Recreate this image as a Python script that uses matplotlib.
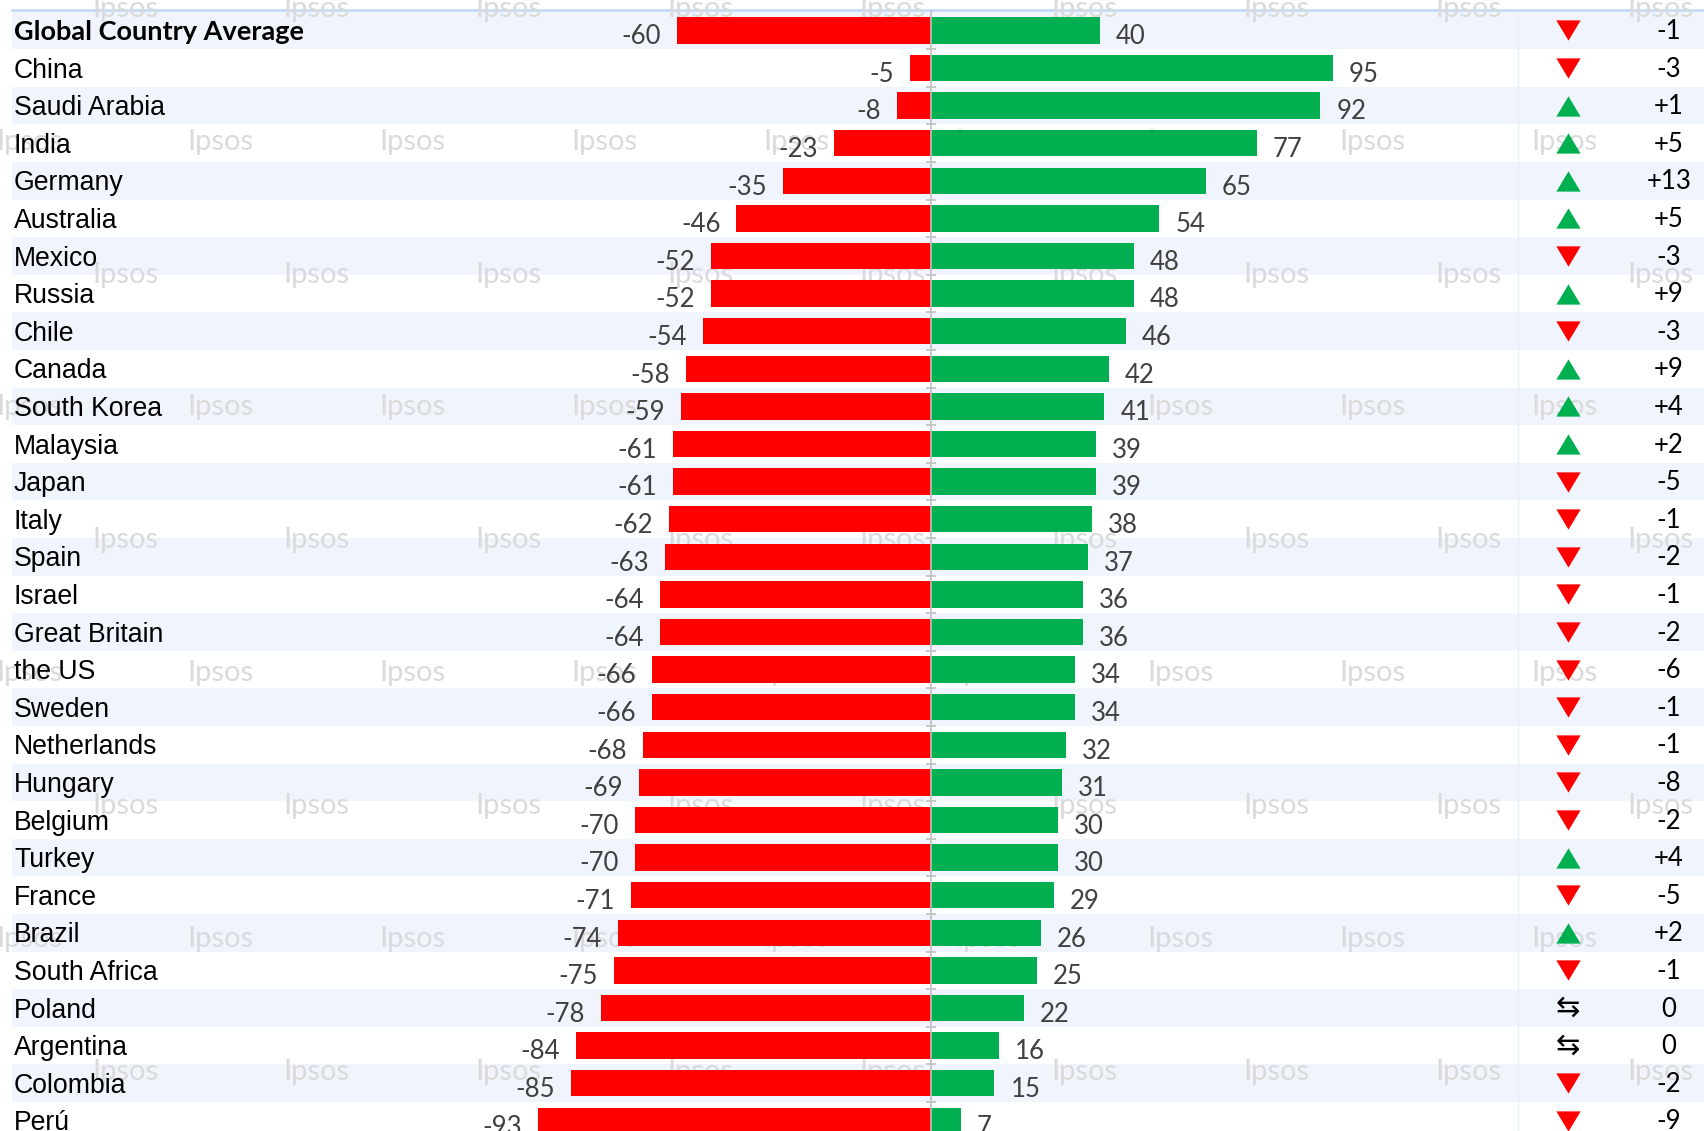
import numpy as np
import matplotlib
matplotlib.use("Agg")
import matplotlib.pyplot as plt

countries = ["Global Country Average", "China", "Saudi Arabia", "India", "Germany",
             "Australia", "Mexico", "Russia", "Chile", "Canada", "South Korea",
             "Malaysia", "Japan", "Italy", "Spain", "Israel", "Great Britain",
             "the US", "Sweden", "Netherlands", "Hungary", "Belgium", "Turkey",
             "France", "Brazil", "South Africa", "Poland", "Argentina", "Colombia",
             "Perú"]
wrong_track = [-60, -5, -8, -23, -35, -46, -52, -52, -54, -58, -59, -61, -61, -62,
               -63, -64, -64, -66, -66, -68, -69, -70, -70, -71, -74, -75, -78,
               -84, -85, -93]
right_direction = [40, 95, 92, 77, 65, 54, 48, 48, 46, 42, 41, 39, 39, 38, 37, 36,
                   36, 34, 34, 32, 31, 30, 30, 29, 26, 25, 22, 16, 15, 7]
change = [-1, -3, 1, 5, 13, 5, -3, 9, -3, 9, 4, 2, -5, -1, -2, -1, -2, -6, -1, -1,
          -8, -2, 4, -5, 2, -1, 0, 0, -2, -9]

RED = "#ff0000"
GREEN = "#00b050"
BAND = "#eff4fd"

W, H = 1704, 1131
zero_px = 931.0
px_per_unit = 4.23
row_px = 37.6
first_row_px = 30.4

fig = plt.figure(figsize=(W / 100, H / 100), dpi=100)
ax = fig.add_axes([0, 0, 1, 1])
ax.set_xlim(-zero_px / px_per_unit, (W - zero_px) / px_per_unit)
ax.set_ylim((H - first_row_px) / row_px, -first_row_px / row_px)
ax.axis("off")

def px_x(p):
    return (p - zero_px) / px_per_unit

n = len(countries)
y = np.arange(n)

# row bands
for i in range(n):
    if i % 2 == 0:
        ax.axhspan(i - 0.5, i + 0.5, xmin=12 / W, xmax=1, color=BAND, lw=0, zorder=0)

# top rule and column divider
ax.axhline(-0.54, xmin=12 / W, xmax=1, color="#c5dbf3", lw=2, zorder=1)
ax.vlines(px_x(1518), -0.5, n, color="#e8eef6", lw=1, zorder=1)

# watermark
for r in range(9):
    wy = 8.7 + 132.9 * r
    x0 = 125 if r % 2 == 0 else 29
    for k in range(10):
        wx = x0 + 191.9 * k
        ax.text(wx / W, 1 - wy / H, "Ipsos", transform=ax.transAxes, ha="center",
                va="center", fontsize=21, family="Lato",
                color="#dadada", zorder=1)

# zero axis
ax.vlines(0, -0.54, n, color="#c0c0c0", lw=1.2, zorder=3)
tick = 5 / px_per_unit
ax.hlines(np.arange(n) + 0.5, -tick, tick, color="#c0c0c0", lw=1.2, zorder=3)

bh = 0.7
ax.barh(y, wrong_track, height=bh, color=RED, zorder=2)
ax.barh(y, right_direction, height=bh, color=GREEN, zorder=2)

for i in range(n):
    ax.annotate(str(wrong_track[i]), (wrong_track[i], i), xytext=(-11.5, -4.5),
                textcoords="offset points", ha="right", va="center", fontsize=18.5,
                family="Lato", color="#404040", zorder=4)
    ax.annotate(str(right_direction[i]), (right_direction[i], i), xytext=(11.5, -4.5),
                textcoords="offset points", ha="left", va="center", fontsize=18.5,
                family="Lato", color="#404040", zorder=4)
    if i == 0:
        ax.text(14 / W, i + 0.03, countries[i], transform=ax.get_yaxis_transform(),
                ha="left", va="center", fontsize=19.5, family="Lato",
                fontweight="bold", color="black", zorder=4)
    else:
        ax.text(14 / W, i + 0.07, countries[i], transform=ax.get_yaxis_transform(),
                ha="left", va="center", fontsize=19.2, family="Liberation Sans",
                color="black", zorder=4)

# change indicators
up = [(-1.2, -1), (1.2, -1), (0, 1)]
down = [(-1.2, 1), (1.2, 1), (0, -1)]
ch = np.array(change)
tri_x = px_x(1568)
ax.scatter(np.full((ch > 0).sum(), tri_x), y[ch > 0], marker=up, s=17.5 ** 2,
           color=GREEN, lw=0, zorder=4)
ax.scatter(np.full((ch < 0).sum(), tri_x), y[ch < 0], marker=down, s=17.5 ** 2,
           color=RED, lw=0, zorder=4)
for i in y[ch == 0]:
    ax.text(tri_x, i, "⇆", ha="center", va="center", fontsize=21,
            family="DejaVu Sans", color="black", zorder=4)

for i in range(n):
    lbl = "0" if change[i] == 0 else "%+d" % change[i]
    ax.text(px_x(1669), i + 0.03, lbl, ha="center", va="center", fontsize=18.5,
            family="Lato", color="black", zorder=4)

fig.savefig("out.png", dpi=100)
